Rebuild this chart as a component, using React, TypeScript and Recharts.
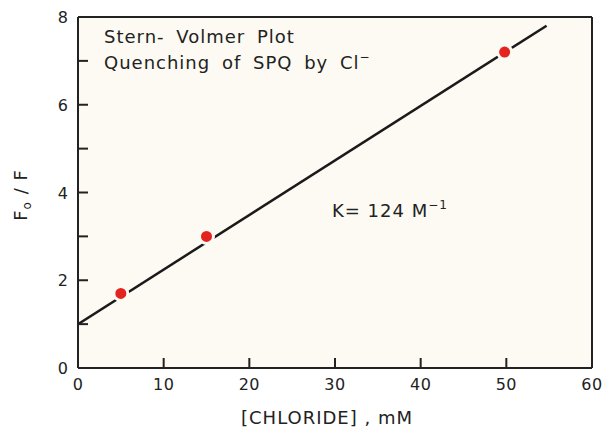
import React from "react";
import {
  ComposedChart,
  Line,
  Scatter,
  XAxis,
  YAxis,
  CartesianGrid,
  ReferenceLine,
} from "recharts";

// Measured points (chloride mM, F0/F)
const chlorideMM = [5, 15, 49.8];
const f0OverF = [1.7, 3.0, 7.2];

// Fitted line endpoints
const fitX = [0, 54.7];
const fitY = [1.0, 7.8];

const xTicks = [0, 10, 20, 30, 40, 50, 60];
const yTicks = [0, 1, 2, 3, 4, 5, 6, 7, 8];
const yLabelTicks = [0, 2, 4, 6, 8];

const pointData = chlorideMM.map((x, i) => ({ x, y: f0OverF[i] }));
const fitData = fitX.map((x, i) => ({ x, y: fitY[i] }));

const FONT = "'DejaVu Sans', sans-serif";
const INK = "#222";
const PLOT_BG = "#fcfaf2";

const XTick = (props: any) => {
  const { x, y, payload } = props;
  const v = payload.value;
  return (
    <g>
      {v !== 0 && v !== 60 && (
        <line x1={x} y1={y} x2={x} y2={y - 10} stroke={INK} strokeWidth={2} />
      )}
      <text
        x={x}
        y={y + 22}
        textAnchor="middle"
        fontFamily={FONT}
        fontSize={16}
        letterSpacing={0.5}
        fill={INK}
      >
        {v}
      </text>
    </g>
  );
};

const YTick = (props: any) => {
  const { x, y, payload } = props;
  const v = payload.value;
  return (
    <g>
      {v !== 0 && v !== 8 && (
        <line x1={x} y1={y} x2={x + 10} y2={y} stroke={INK} strokeWidth={2} />
      )}
      {yLabelTicks.includes(v) && (
        <text
          x={x - 10}
          y={y + 6}
          textAnchor="end"
          fontFamily={FONT}
          fontSize={16}
          fill={INK}
        >
          {v}
        </text>
      )}
    </g>
  );
};

const Dot = (props: any) => {
  const { cx, cy } = props;
  return <circle cx={cx} cy={cy} r={7} fill="#e3231f" stroke={PLOT_BG} strokeWidth={3} />;
};

export default function App() {
  return (
    <div
      style={{
        position: "absolute",
        left: 0,
        top: 0,
        width: 608,
        height: 427,
        background: "#ffffff",
      }}
    >
      <ComposedChart
        width={608}
        height={427}
        margin={{ top: 17, right: 16, left: 0, bottom: 0 }}
      >
        <CartesianGrid fill={PLOT_BG} horizontal={false} vertical={false} />
        <XAxis
          type="number"
          dataKey="x"
          domain={[0, 60]}
          ticks={xTicks}
          allowDataOverflow
          height={59}
          tickSize={0}
          tickMargin={0}
          tickLine={false}
          axisLine={{ stroke: INK, strokeWidth: 2 }}
          tick={<XTick />}
        />
        <YAxis
          type="number"
          domain={[0, 8]}
          ticks={yTicks}
          allowDataOverflow
          width={78}
          tickSize={0}
          tickMargin={0}
          tickLine={false}
          axisLine={{ stroke: INK, strokeWidth: 2 }}
          tick={<YTick />}
        />
        <ReferenceLine x={60} stroke={INK} strokeWidth={2} />
        <ReferenceLine y={8} stroke={INK} strokeWidth={2} />
        <Line
          data={fitData}
          dataKey="y"
          type="linear"
          stroke="#1a1a1a"
          strokeWidth={2.5}
          dot={false}
          activeDot={false}
          isAnimationActive={false}
        />
        <Scatter
          data={pointData}
          dataKey="y"
          shape={<Dot />}
          isAnimationActive={false}
        />
      </ComposedChart>
      <svg
        width={608}
        height={427}
        style={{ position: "absolute", left: 0, top: 0, pointerEvents: "none" }}
      >
        <g fontFamily={FONT} fill={INK} fontSize={18} letterSpacing={1}>
          <text x={104} y={43} wordSpacing={5}>Stern- Volmer Plot</text>
          <text x={104} y={69} wordSpacing={5}>
            Quenching of SPQ by Cl
            <tspan fontSize={12} dy={-8}>−</tspan>
          </text>
          <text x={332} y={217}>
            K= 124 M
            <tspan fontSize={12} dy={-8}>−1</tspan>
          </text>
          <text x={327} y={424} textAnchor="middle">[CHLORIDE] , mM</text>
          <text transform="translate(27,195) rotate(-90)" textAnchor="middle">
            F<tspan fontSize={12} dy={4}>o</tspan>
            <tspan dy={-4}> / F</tspan>
          </text>
        </g>
      </svg>
    </div>
  );
}
